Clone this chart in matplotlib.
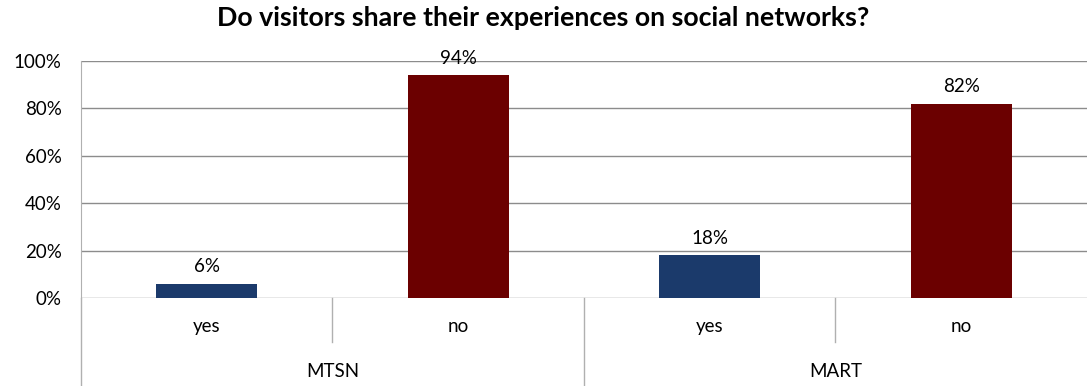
import matplotlib.pyplot as plt
from matplotlib.lines import Line2D

groups = ["MTSN", "MART"]
answers = ["yes", "no"]
values = [6, 94, 18, 82]
colors = ["#1B3A6B", "#6B0000", "#1B3A6B", "#6B0000"]

plt.rcParams['font.family'] = ['Lato', 'DejaVu Sans']

fig = plt.figure(figsize=(10.87, 3.86), dpi=100)
ax = fig.add_axes([0.0745, 0.228, 0.9255, 0.614])

x = list(range(len(values)))
ax.bar(x, values, width=0.4, color=colors, zorder=3)
for xi, v in zip(x, values):
    ax.text(xi, v + 3.5, f"{v}%", ha="center", va="bottom", fontsize=13.5)

ax.set_xlim(-0.5, 3.5)
ax.set_ylim(0, 100)
ax.set_yticks(range(0, 101, 20))
ax.set_yticklabels([f"{t}%" for t in range(0, 101, 20)], fontsize=13.5)
ax.yaxis.grid(True, color="#8c8c8c", linewidth=1, zorder=0)
ax.tick_params(axis="y", length=0, pad=14)
ax.set_xticks([])
for s in ["top", "right", "bottom"]:
    ax.spines[s].set_visible(False)
ax.spines["left"].set_color("#b0b0b0")

# category labels on two levels
tr = ax.get_xaxis_transform()
for i, xi in enumerate(x):
    ax.text(xi, -0.12, answers[i % 2], transform=tr, ha="center", va="center", fontsize=13.5)
for g, name in enumerate(groups):
    ax.text(g * 2 + 0.5, -0.31, name, transform=tr, ha="center", va="center", fontsize=13.5)

# separators below the axis
seps = [(-0.5, -0.371), (0.5, -0.186), (1.5, -0.371), (2.5, -0.186)]
for sx, sy in seps:
    ax.add_line(Line2D([sx, sx], [0, sy], transform=tr, color="#b0b0b0", linewidth=1, clip_on=False))

fig.suptitle("Do visitors share their experiences on social networks?", fontsize=19.3,
             fontweight="bold", y=0.985)

fig.savefig("out.png", dpi=100)
